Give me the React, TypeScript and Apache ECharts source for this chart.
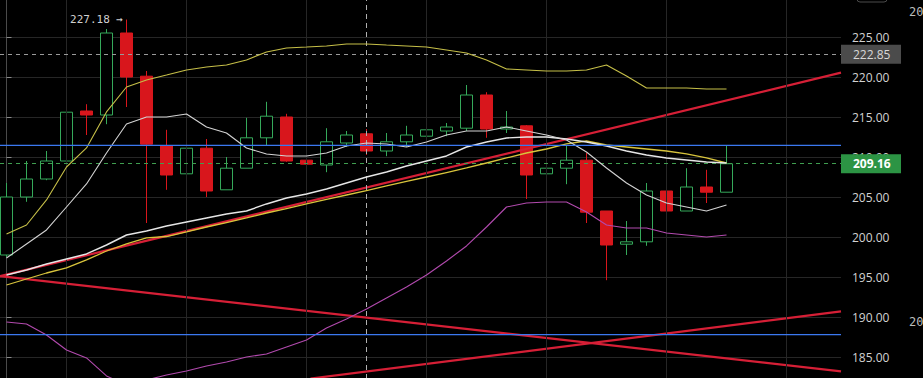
import React, { useEffect, useRef } from "react";
import * as echarts from "echarts";

// ---- candle data (index 0..36) ----
const opens = [197.75, 205.0, 207.25, 209.5, 215.75, 215.25, 225.5, 220.1, 211.4, 207.9, 211.1, 205.9, 208.6, 212.4, 215.0, 209.6, 209.0, 211.75, 212.9, 210.75, 211.9, 212.6, 213.25, 213.6, 217.75, 213.5, 213.9, 207.9, 208.6, 209.6, 203.25, 199.1, 199.4, 205.75, 203.25, 206.25, 205.6];
const closes = [205.0, 207.25, 209.5, 215.6, 215.25, 225.5, 220.0, 211.6, 207.75, 211.1, 205.75, 208.6, 212.4, 215.1, 209.5, 209.1, 211.9, 212.75, 210.75, 211.9, 212.75, 213.4, 213.75, 217.75, 213.5, 213.75, 207.75, 208.6, 209.6, 203.1, 199.0, 199.4, 205.75, 203.25, 206.25, 205.6, 209.16];
const lows = [197.5, 204.4, 207.1, 208.6, 212.75, 214.1, 216.25, 201.75, 205.9, 202.1, 205.0, 205.9, 208.6, 211.5, 209.4, 208.1, 208.1, 211.25, 210.25, 210.1, 211.25, 211.75, 212.6, 213.25, 212.4, 213.0, 204.75, 206.75, 206.6, 201.75, 194.6, 197.75, 198.9, 202.0, 203.25, 204.25, 205.6];
const highs = [206.75, 209.5, 210.75, 218.9, 216.6, 226.0, 227.18, 220.75, 213.4, 212.5, 212.25, 210.0, 214.9, 216.9, 215.4, 210.25, 213.6, 213.25, 213.5, 213.0, 213.9, 215.25, 214.25, 219.0, 218.1, 215.75, 214.0, 209.6, 211.4, 210.5, 203.25, 202.0, 206.75, 206.5, 208.6, 208.4, 211.4];

// ---- indicator lines ----
const maFast = [197.38, 199.13, 200.88, 203.75, 206.63, 210.5, 214.13, 215.0, 215.0, 215.38, 213.75, 213.0, 211.13, 210.38, 210.13, 210.13, 210.5, 211.38, 211.75, 211.63, 211.25, 211.88, 212.75, 213.25, 213.25, 213.75, 213.25, 212.75, 212.13, 210.63, 208.63, 206.75, 205.25, 204.25, 203.75, 203.25, 204.0];
const bandUpper = [200.38, 201.5, 204.63, 208.75, 211.13, 215.63, 218.75, 219.63, 220.25, 220.88, 221.25, 221.5, 222.13, 223.13, 223.63, 223.75, 223.88, 224.13, 224.13, 224.0, 223.88, 223.75, 223.38, 223.0, 222.13, 221.0, 220.88, 220.75, 220.75, 220.88, 221.5, 220.13, 218.63, 218.63, 218.63, 218.5, 218.5];
const bandLower = [189.38, 189.13, 187.75, 185.88, 184.88, 182.63, 181.5, 182.13, 182.75, 183.25, 183.88, 184.38, 185.0, 185.38, 186.25, 187.13, 188.63, 189.75, 191.0, 192.38, 193.75, 195.25, 197.0, 198.88, 201.25, 203.75, 204.25, 204.38, 204.38, 203.13, 201.5, 201.13, 201.13, 200.5, 200.25, 200.0, 200.25];
const maSlowWhite = [195.25, 195.88, 196.63, 197.25, 197.88, 199.0, 200.25, 200.75, 201.38, 201.88, 202.38, 202.88, 203.25, 204.13, 204.88, 205.38, 206.0, 206.75, 207.5, 208.13, 208.88, 209.5, 210.13, 211.25, 211.88, 212.38, 212.5, 212.5, 212.25, 211.88, 211.38, 210.75, 210.25, 209.88, 209.63, 209.38, 209.25];
const maSlowYellow = [194.0, 194.75, 195.5, 196.13, 197.13, 198.25, 199.13, 199.88, 200.06, 200.63, 201.25, 201.81, 202.38, 203.0, 203.56, 204.13, 204.69, 205.25, 205.81, 206.38, 206.94, 207.5, 208.06, 208.63, 209.25, 209.88, 210.5, 211.0, 211.63, 212.0, 211.5, 211.25, 211.0, 210.75, 210.38, 209.88, 209.25];

// ---- trend lines [index, price] ----
const trendRise = [[-0.325, 195.1], [41.725, 220.54]];
const trendFall = [[-0.325, 195.12], [41.725, 183.21]];
const trendLow = [[15.2, 182.3], [41.725, 190.71]];

// ---- levels ----
const blueLevels = [211.45, 187.8];
const lastPrice = 209.16;
const refPrice = 222.85;
const maxHigh = 227.18;
const maxHighIndex = 6;
const crosshairIndex = 18;
const gridColumns = [3, 9, 15, 21, 27, 33, 39];
const xStart = -0.325;
const xEnd = 41.725;

const candleData = opens.map((o, i) => [i, o, closes[i], lows[i], highs[i]]);
const toXY = (arr: number[]) => arr.map((v, i) => [i, v]);

const lineSeries = (data: number[], color: string, width: number) => ({
  type: "line",
  data: toXY(data),
  showSymbol: false,
  symbol: "none",
  silent: true,
  z: 5,
  lineStyle: { color, width },
});

const segSeries = (data: number[][], color: string, width: number, z: number) => ({
  type: "line",
  data,
  symbol: "none",
  silent: true,
  z,
  lineStyle: { color, width, type: "solid" },
});

const priceLabel = (text: string, bg: string, fg: string, weight: string) => ({
  show: true,
  position: "end",
  distance: 0,
  formatter: text,
  backgroundColor: bg,
  color: fg,
  fontWeight: weight,
  fontFamily: "Open Sans",
  fontSize: 12,
  lineHeight: 13,
  padding: [3, 10, 3, 12],
  width: 38,
});

export default function App() {
  const ref = useRef<HTMLDivElement>(null);
  useEffect(() => {
    const chart = echarts.init(ref.current!, null, { renderer: "svg" });
    const option: any = {
      animation: false,
      backgroundColor: "#000000",
      grid: { left: 0, width: 841, top: -3, height: 400, outerBoundsMode: "none", containLabel: false },
      xAxis: { type: "value", min: xStart, max: xEnd, show: false },
      yAxis: {
        type: "value",
        position: "right",
        min: 180,
        max: 230,
        interval: 5,
        axisLine: { show: true, lineStyle: { color: "#4a4a4a", width: 1 } },
        axisTick: { show: true, length: 5, lineStyle: { color: "#8a8a8a" } },
        axisLabel: {
          color: "#d2d2d2",
          fontSize: 12,
          fontFamily: "Open Sans",
          margin: 11,
          showMinLabel: false,
          showMaxLabel: false,
          formatter: (v: number) => v.toFixed(2),
        },
        splitLine: { show: true, lineStyle: { color: "#262626", width: 1 } },
      },
      series: [
        {
          type: "line",
          data: [],
          silent: true,
          z: 1,
          markLine: {
            silent: true,
            symbol: ["none", "none"],
            label: { show: false },
            lineStyle: { color: "#262626", type: "solid", width: 1 },
            data: gridColumns.map((c) => ({ xAxis: c })),
          },
        },
        {
          type: "candlestick",
          data: candleData,
          barWidth: 12,
          silent: true,
          z: 3,
          itemStyle: {
            color: "#000000",
            color0: "#d8161c",
            borderColor: "#35a95a",
            borderColor0: "#d8161c",
            borderWidth: 1,
          },
          markPoint: {
            silent: true,
            symbol: "circle",
            symbolSize: 1,
            itemStyle: { color: "rgba(0,0,0,0)" },
            data: [
              {
                coord: [maxHighIndex, maxHigh],
                label: {
                  show: true,
                  position: "left",
                  distance: 3,
                  formatter: maxHigh.toFixed(2) + " →",
                  color: "#d0d0d0",
                  fontFamily: "DejaVu Sans Mono",
                  fontSize: 11,
                },
              },
            ],
          },
        },
        segSeries(trendRise, "#d61f36", 2.2, 4),
        segSeries(trendFall, "#d61f36", 2.2, 4),
        segSeries(trendLow, "#d61f36", 2.2, 4),
        lineSeries(maSlowYellow, "#d8c43c", 1.3),
        lineSeries(maSlowWhite, "#e6e6e6", 1.4),
        lineSeries(bandUpper, "#c6bf48", 1.1),
        lineSeries(maFast, "#d4d4d4", 1.1),
        lineSeries(bandLower, "#b24aae", 1.1),
        ...blueLevels.map((b) => segSeries([[xStart, b], [xEnd, b]], "#3b78f0", 1.2, 7)),
        {
          type: "line",
          data: [],
          silent: true,
          z: 6,
          markLine: {
            silent: true,
            symbol: ["none", "none"],
            label: { show: false },
            lineStyle: { color: "#b0b0b0", type: [5, 4], width: 1 },
            data: [{ xAxis: crosshairIndex }],
          },
        },
        {
          type: "line",
          data: [],
          silent: true,
          z: 6,
          markLine: {
            silent: true,
            symbol: ["none", "none"],
            lineStyle: { color: "#9a9a9a", type: [4, 4], width: 1 },
            label: priceLabel(refPrice.toFixed(2), "#4b4b4b", "#d8d8d8", "normal"),
            data: [{ yAxis: refPrice }],
          },
        },
        {
          type: "line",
          data: [],
          silent: true,
          z: 6,
          markLine: {
            silent: true,
            symbol: ["none", "none"],
            lineStyle: { color: "#3f9e50", type: [4, 4], width: 1 },
            label: priceLabel(lastPrice.toFixed(2), "#2c9444", "#ffffff", "bold"),
            data: [{ yAxis: lastPrice }],
          },
        },
      ],
      graphic: [
        {
          type: "rect",
          shape: { x: 857, y: -8, width: 30, height: 10, r: 3 },
          style: { fill: "none", stroke: "#4a4a4a", lineWidth: 1 },
          silent: true,
        },
        {
          type: "text",
          x: 909,
          y: 6,
          style: { text: "20", fill: "#bdbdbd", font: "12px 'DejaVu Sans Mono'" },
          silent: true,
        },
        {
          type: "text",
          x: 909,
          y: 316,
          style: { text: "20", fill: "#bdbdbd", font: "12px 'DejaVu Sans Mono'" },
          silent: true,
        },
      ],
    };
    chart.setOption(option);
    return () => chart.dispose();
  }, []);
  return (
    <div
      ref={ref}
      style={{ position: "fixed", left: 0, top: 0, width: 923, height: 378, background: "#000" }}
    />
  );
}
